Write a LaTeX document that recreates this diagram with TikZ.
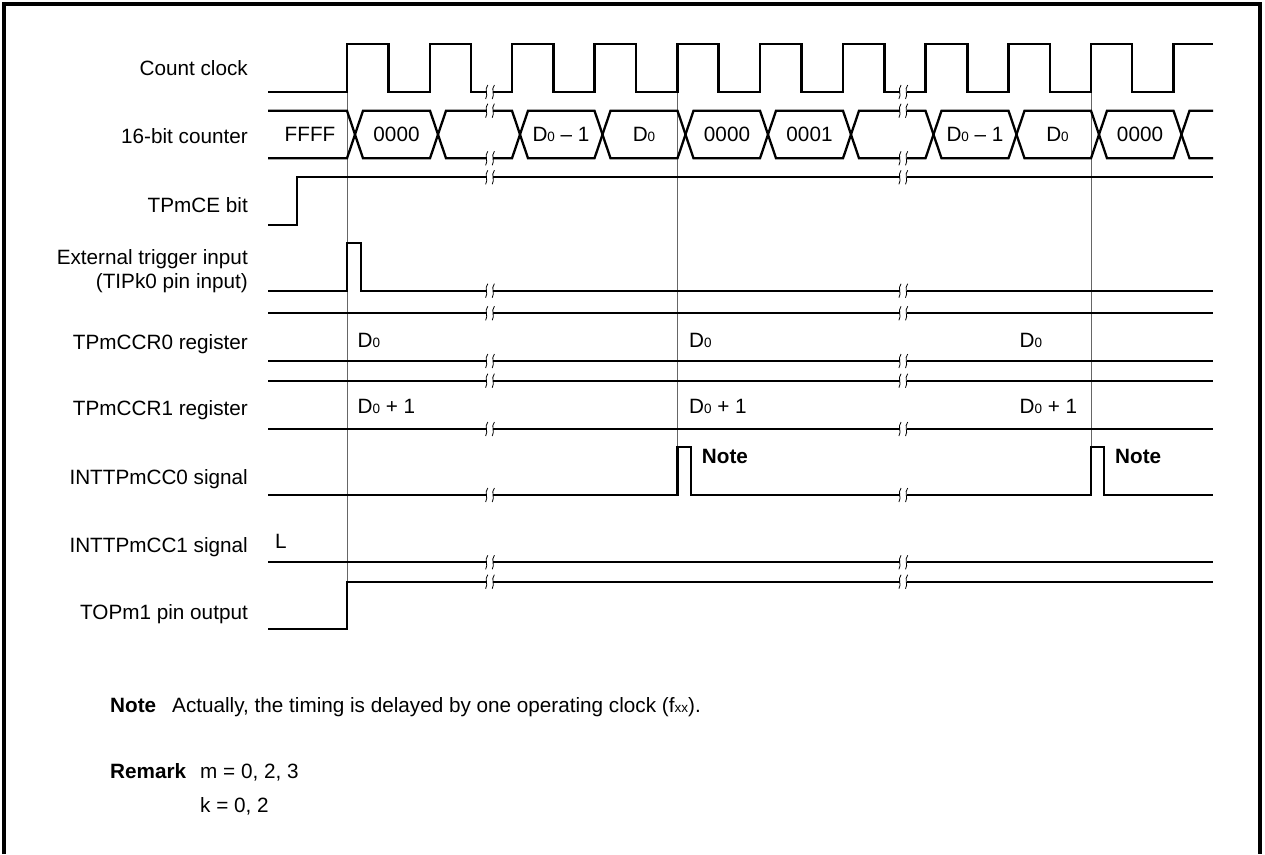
\documentclass[tikz,border=0pt]{standalone}
\usepackage{fontspec}
\setmainfont{Liberation Sans}
\newcommand\fs{\fontsize{20.7}{24}\selectfont}
\newcommand\sbs[1]{{\fontsize{13.5}{14}\selectfont #1}}
\newcommand\brkmark[2]{%
  \fill[white] ({#1-3.2},{#2-2.5}) rectangle ({#1+3.2},{#2+2.5});
  \draw[brk] ({#1-2.2},{#2-7}) .. controls ({#1-6.2},{#2-2}) and ({#1-1.2},{#2+2}) .. ({#1-4.4},{#2+7});
  \draw[brk] ({#1+4.4},{#2-7}) .. controls ({#1+0.4},{#2-2}) and ({#1+5.4},{#2+2}) .. ({#1+2.2},{#2+7});
}
\begin{document}
\begin{tikzpicture}[x=1pt,y=-1pt,
  sig/.style={line width=2.3pt, line join=miter, line cap=butt},
  guide/.style={line width=0.9pt, black!60},
  brk/.style={line width=0.8pt},
  lbl/.style={anchor=base east, inner sep=0pt, font=\fs},
  val/.style={anchor=base, inner sep=0pt, font=\fs},
  valw/.style={anchor=base west, inner sep=0pt, font=\fs},
  frame/.style={line width=3.2pt}]
\useasboundingbox (0,0) rectangle (1265,854);
\draw[frame] (4,854) -- (4,4) -- (1260,4) -- (1260,854);

% labels
\node[lbl] (lclk) at (248,75.7) {Count clock};
\node[lbl] (lcnt) at (248,143.4) {16-bit counter};
\node[lbl] (lce) at (248,212.4) {TPmCE bit};
\node[lbl, align=right] (ltrg) at (248,264) {External trigger input};
\node[lbl] (ltrg2) at (248,288) {(TIPk0 pin input)};
\node[lbl] (lccr0) at (248,349) {TPmCCR0 register};
\node[lbl] (lccr1) at (248,415.7) {TPmCCR1 register};
\node[lbl] (lint0) at (248,484) {INTTPmCC0 signal};
\node[lbl] (lint1) at (248,552.4) {INTTPmCC1 signal};
\node[lbl] (ltop) at (248,619) {TOPm1 pin output};

% guides
\draw[guide] (347,92) -- (347,581.7);
\draw[guide] (677.5,92) -- (677.5,447.3);
\draw[guide] (1091,92) -- (1091,447.3);

% clock
\draw[sig] (268,92) -- (347,92) -- (347,44) -- (388.5,44) -- (388.5,92) -- (430,92) -- (430,44) -- (471,44) -- (471,92)
 -- (512,92) -- (512,44) -- (553.5,44) -- (553.5,92) -- (594.5,92) -- (594.5,44) -- (636,44) -- (636,92)
 -- (677.5,92) -- (677.5,44) -- (718.5,44) -- (718.5,92) -- (760,92) -- (760,44) -- (801.5,44) -- (801.5,92)
 -- (843,92) -- (843,44) -- (884.5,44) -- (884.5,92) -- (925.5,92) -- (925.5,44) -- (967.5,44) -- (967.5,92)
 -- (1008.5,92) -- (1008.5,44) -- (1050,44) -- (1050,92) -- (1091,92) -- (1091,44) -- (1132,44) -- (1132,92)
 -- (1173.5,92) -- (1173.5,44) -- (1213,44);

% counter bus
\def\T{110.7}\def\B{158.3}\def\M{134.5}
\draw[sig] (268,\T) -- (347,\T) -- (355,\M) -- (347,\B) -- (268,\B);
\foreach \a/\b in {347/430,430/512,512/594.5,594.5/677.5,677.5/760,760/843,843/925.5,925.5/1008.5,1008.5/1091,1091/1173.5}{
  \draw[sig] ({\a+8},\M) -- ({\a+16},\T) -- (\b,\T) -- ({\b+8},\M) -- (\b,\B) -- ({\a+16},\B) -- cycle;
}
\draw[sig] (1213,\T) -- (1189.5,\T) -- (1181.5,\M) -- (1189.5,\B) -- (1213,\B);
\node[val] (c1) at (310,141.9) {FFFF};
\node[val] (c2) at (396.5,141.9) {0000};
\node[val] (c3) at (561,141.9) {D\sbs{0} -- 1};
\node[val] (c4) at (644,141.9) {D\sbs{0}};
\node[val] (c5) at (727,141.9) {0000};
\node[val] (c6) at (809.5,141.9) {0001};
\node[val] (c7) at (975,141.9) {D\sbs{0} -- 1};
\node[val] (c8) at (1057.5,141.9) {D\sbs{0}};
\node[val] (c9) at (1140,141.9) {0000};

% TPmCE
\draw[sig] (268,225) -- (297.3,225) -- (297.3,177.3) -- (1213,177.3);
% trigger
\draw[sig] (268,290.7) -- (347,290.7) -- (347,243.3) -- (360.7,243.3) -- (360.7,290.7) -- (1213,290.7);
% CCR0
\draw[sig] (268,313.3) -- (1213,313.3);
\draw[sig] (268,361) -- (1213,361);
\node[valw] (r01) at (357.5,347) {D\sbs{0}};
\node[valw] (r02) at (689,347) {D\sbs{0}};
\node[valw] (r03) at (1019.5,347) {D\sbs{0}};
% CCR1
\draw[sig] (268,380.7) -- (1213,380.7);
\draw[sig] (268,429) -- (1213,429);
\node[valw] (r11) at (357.5,413.3) {D\sbs{0} + 1};
\node[valw] (r12) at (689,413.3) {D\sbs{0} + 1};
\node[valw] (r13) at (1019.5,413.3) {D\sbs{0} + 1};
% INT0
\draw[sig] (268,495) -- (677.5,495) -- (677.5,447.3) -- (690.7,447.3) -- (690.7,495) -- (1091,495) -- (1091,447.3) -- (1104.2,447.3) -- (1104.2,495) -- (1213,495);
\node[valw, font=\fs\bfseries] (n1) at (701.7,463.5) {Note};
\node[valw, font=\fs\bfseries] (n2) at (1115,463.5) {Note};
% INT1
\draw[sig] (268,562.3) -- (1213,562.3);
\node[valw] (lL) at (275,548.3) {L};
% TOPm1
\draw[sig] (268,629) -- (347,629) -- (347,581.7) -- (1213,581.7);

% breaks
\foreach \y in {92,110.7,158.3,177.3,290.7,313.3,361,380.7,429,495,562.3,581.7}{
  \brkmark{490}{\y}
  \brkmark{903.3}{\y}
}

% bottom text
\node[valw, font=\fs\bfseries] (note) at (110,712) {Note};
\node[valw] (notet) at (172,712) {Actually, the timing is delayed by one operating clock (f\sbs{xx}).};
\node[valw, font=\fs\bfseries] (rem) at (110,778) {Remark};
\node[valw] (remm) at (200,778) {m = 0, 2, 3};
\node[valw] (remk) at (200,812) {k = 0, 2};
\end{tikzpicture}
\end{document}
